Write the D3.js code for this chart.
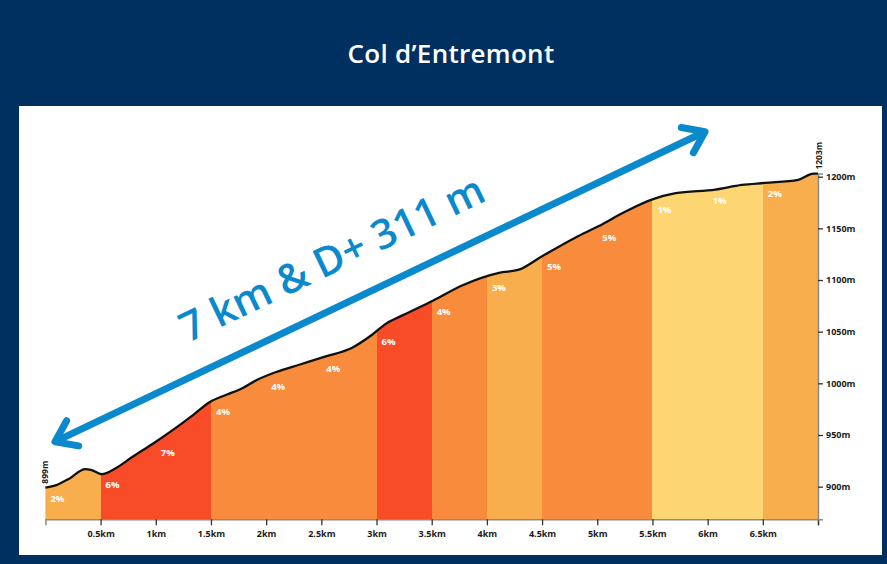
<!DOCTYPE html>
<html>
<head>
<meta charset="utf-8">
<script src="https://cdn.jsdelivr.net/npm/d3@7"></script>
<style>
  html, body { margin: 0; padding: 0; background: #00305f; }
  svg { display: block; }
</style>
</head>
<body>
<div id="chart"></div>
<script>
// profile: distance (km) and elevation (m)
const distances = [0, 0.10, 0.22, 0.36, 0.42, 0.51, 0.64, 0.79, 0.98, 1.13, 1.34, 1.49, 1.64, 1.76, 1.91, 2.09, 2.30, 2.54, 2.78, 2.96, 3.09, 3.24, 3.51, 3.78, 4.11, 4.29, 4.50, 4.80, 5.01, 5.26, 5.50, 5.71, 6.07, 6.31, 6.52, 6.82, 6.96, 7.0];
const elevations = [899, 901.5, 908, 917, 916, 912, 918, 929, 942, 953, 969.5, 982, 989, 994, 1003, 1011, 1018, 1026, 1034.5, 1047, 1058, 1066, 1080, 1095, 1107, 1110, 1123, 1141, 1152, 1166.5, 1178, 1184, 1187.5, 1192, 1194, 1197, 1203, 1203];

// half-km segments and their gradient
const segStarts = [0, 0.5, 1, 1.5, 2, 2.5, 3, 3.5, 4, 4.5, 5, 5.5, 6, 6.5];
const grades = [2, 6, 7, 4, 4, 4, 6, 4, 3, 5, 5, 1, 1, 2];

const kmTicks = [0.5, 1, 1.5, 2, 2.5, 3, 3.5, 4, 4.5, 5, 5.5, 6, 6.5, 7];
const kmLabels = ["0.5km", "1km", "1.5km", "2km", "2.5km", "3km", "3.5km", "4km", "4.5km", "5km", "5.5km", "6km", "6.5km", ""];
const altTicks = [900, 950, 1000, 1050, 1100, 1150, 1200];

const title = "Col d\u2019Entremont";
const headline = "7 km & D+ 311 m";

const W = 887, H = 564;
const svg = d3.select("#chart").append("svg")
    .attr("width", W)
    .attr("height", H);

// navy frame + white panel
svg.append("rect").attr("width", W).attr("height", H).attr("fill", "#00305f");
svg.append("rect")
    .attr("x", 19).attr("y", 106)
    .attr("width", 863).attr("height", 449)
    .attr("fill", "#ffffff");

svg.append("text")
    .attr("x", 451).attr("y", 63)
    .attr("text-anchor", "middle")
    .attr("fill", "#ffffff")
    .style("font-family", "'Open Sans', sans-serif")
    .style("font-size", "26px")
    .style("font-weight", "600")
    .style("letter-spacing", "0.3px")
    .text(title);

// scales
const x = d3.scaleLinear().domain([0, 7]).range([45.4, 818]);
const y = d3.scaleLinear().domain([868.4, 1203]).range([519.3, 173.6]);

const profile = distances.map((d, i) => ({ km: d, ele: elevations[i] }));

const colorFor = g => g <= 1 ? "#fdd673" : g <= 3 ? "#f8ae4c" : g <= 5 ? "#f98b3c" : "#f84c29";

// clip segments to the shape of the profile
const area = d3.area()
    .x(d => x(d.km))
    .y0(y(868.4))
    .y1(d => y(d.ele))
    .curve(d3.curveMonotoneX);

svg.append("clipPath").attr("id", "profile-clip")
    .append("path").attr("d", area(profile));

svg.append("g")
    .attr("clip-path", "url(#profile-clip)")
    .selectAll("rect")
    .data(segStarts)
    .enter().append("rect")
    .attr("x", d => Math.round(x(d)))
    .attr("y", 150)
    .attr("width", d => Math.round(x(d + 0.5)) - Math.round(x(d)) + 1)
    .attr("height", d => y(868.4) - 150)
    .attr("shape-rendering", "crispEdges")
    .attr("fill", (d, i) => colorFor(grades[i]));

// profile line
const line = d3.line()
    .x(d => x(d.km))
    .y(d => y(d.ele))
    .curve(d3.curveMonotoneX);

svg.append("path")
    .attr("d", line(profile))
    .attr("fill", "none")
    .attr("stroke", "#111")
    .attr("stroke-width", 2.3)
    .attr("stroke-linejoin", "round");

// gradient labels
const elevAt = km => {
    const i = d3.bisector(d => d.km).left(profile, km);
    if (i <= 0) return profile[0].ele;
    const a = profile[i - 1], b = profile[i];
    return a.ele + (b.ele - a.ele) * (km - a.km) / (b.km - a.km);
};
svg.append("g").selectAll("text")
    .data(segStarts)
    .enter().append("text")
    .attr("x", d => x(d) + 5)
    .attr("y", d => y(elevAt(d)) + 14)
    .attr("fill", "#ffffff")
    .style("font-family", "'Open Sans', sans-serif")
    .style("font-weight", "700")
    .style("font-size", "9.5px")
    .text((d, i) => grades[i] + "%");

// axes
const xAxis = d3.axisBottom(x)
    .tickValues(kmTicks)
    .tickFormat((d, i) => kmLabels[i])
    .tickSizeOuter(0)
    .tickSize(6)
    .tickPadding(5);
const gx = svg.append("g")
    .attr("transform", `translate(0, ${y(868.4)})`)
    .call(xAxis);
gx.select(".domain").attr("stroke", "#8a8a8a").attr("stroke-width", 1.5);
gx.selectAll(".tick line").attr("stroke", "#333").attr("stroke-width", 1.3);

const yAxis = d3.axisRight(y)
    .tickValues(altTicks)
    .tickFormat(d => d + "m")
    .tickSizeOuter(0)
    .tickSize(5)
    .tickPadding(3);
const gy = svg.append("g")
    .attr("transform", `translate(${x(7)}, 0)`)
    .call(yAxis);
gy.select(".domain").attr("stroke", "#8a8a8a").attr("stroke-width", 1.5);
gy.selectAll(".tick line").attr("stroke", "#333").attr("stroke-width", 1.3);

svg.selectAll(".tick text")
    .attr("fill", "#1a1a1a")
    .style("font-family", "'Open Sans', sans-serif")
    .style("font-weight", "700")
    .style("font-size", "9px");

// start / summit altitude labels
const endLabels = [
    { km: 0, ele: elevations[0], dx: 3 },
    { km: 7, ele: elevations[elevations.length - 1], dx: 4 }
];
svg.append("g").selectAll("text")
    .data(endLabels)
    .enter().append("text")
    .attr("transform", d => `translate(${x(d.km) + d.dx}, ${y(d.ele) - 4}) rotate(-90)`)
    .attr("fill", "#1a1a1a")
    .style("font-family", "'Open Sans', sans-serif")
    .style("font-weight", "700")
    .style("font-size", "8.5px")
    .text(d => d.ele + "m");

// blue double arrow and headline
const arrowFrom = [55, 441.7], arrowTo = [705, 131.7];
const ang = Math.atan2(arrowTo[1] - arrowFrom[1], arrowTo[0] - arrowFrom[0]);
const blue = "#0a89cd";
const ag = svg.append("g")
    .attr("stroke", blue)
    .attr("stroke-width", 7)
    .attr("stroke-linecap", "round")
    .attr("stroke-linejoin", "round")
    .attr("fill", "none");
ag.append("line")
    .attr("x1", arrowFrom[0] + 3 * Math.cos(ang)).attr("y1", arrowFrom[1] + 3 * Math.sin(ang))
    .attr("x2", arrowTo[0] - 3 * Math.cos(ang)).attr("y2", arrowTo[1] - 3 * Math.sin(ang));
const head = (p, dir) => {
    const L = 24, spread = 0.62;
    const a1 = dir + Math.PI - spread, a2 = dir + Math.PI + spread;
    return `M${p[0] + L * Math.cos(a1)},${p[1] + L * Math.sin(a1)}L${p[0]},${p[1]}L${p[0] + L * Math.cos(a2)},${p[1] + L * Math.sin(a2)}`;
};
ag.append("path").attr("d", head(arrowTo, ang));
ag.append("path").attr("d", head(arrowFrom, ang + Math.PI));

svg.append("text")
    .attr("transform", `translate(188, 343) rotate(${ang * 180 / Math.PI})`)
    .attr("fill", blue)
    .style("font-family", "'Open Sans', sans-serif")
    .style("font-size", "41px")
    .style("font-weight", "600")
    .text(headline);
</script>
</body>
</html>
